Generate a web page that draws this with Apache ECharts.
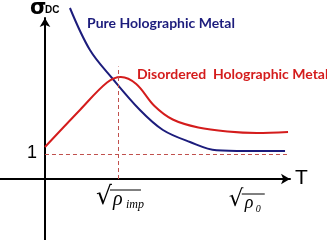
<!DOCTYPE html>
<html><head><meta charset="utf-8">
<script src="https://cdn.jsdelivr.net/npm/echarts@6/dist/echarts.min.js"></script>
<style>html,body{margin:0;padding:0;background:#fff}#c{width:327px;height:240px}</style>
</head><body><div id="c"></div>
<script>
// x in units of sqrt(rho_imp); y in units of sigma_DC (1 = residual level)
const pureX = [0.342, 0.616, 0.918, 1.301, 1.616, 1.986, 2.35, 2.75, 3.288];
const pureY = [6.84, 5.16, 4.04, 2.76, 1.96, 1.48, 1.15, 1.12, 1.12];
const disX = [0, 0.479, 0.85, 1.04, 1.25, 1.5, 1.75, 2.1, 2.5, 2.9, 3.329];
const disY = [1.28, 2.76, 3.86, 4.08, 3.8, 2.92, 2.38, 2.06, 1.9, 1.84, 1.88];
const xTickValues = [1, 2.75];
const xTickSubs = ['imp', '0'];
const yTickValues = [1];
const yTickLabels = ['1'];
const seriesNames = ['Pure Holographic Metal', 'Disordered  Holographic Metal'];
const axisNames = ['T', 'σ', 'DC'];

const BLUE = '#1c1c7c', RED = '#d41c1c', DASH = '#c0504d';
const chart = echarts.init(document.getElementById('c'));
const zip = (a, b) => a.map((v, i) => [v, b[i]]);
chart.setOption({
  animation: false,
  grid: {left: 0, right: 37, top: 18, bottom: 0, containLabel: false},
  xAxis: {type: 'value', min: -0.616, max: 3.356, splitLine: {show: false},
    axisTick: {show: false}, axisLabel: {show: false},
    axisLine: {onZero: true, lineStyle: {color: '#000', width: 2}, symbol: ['none', 'arrow'], symbolSize: [8, 9]}},
  yAxis: {type: 'value', min: -2.44, max: 6.44, splitLine: {show: false},
    axisTick: {show: false}, axisLabel: {show: false},
    axisLine: {onZero: true, lineStyle: {color: '#000', width: 2}, symbol: ['none', 'arrow'], symbolSize: [8, 9]}},
  series: [
    {type: 'line', name: seriesNames[0], data: zip(pureX, pureY), smooth: 0.35, showSymbol: false, clip: false,
      lineStyle: {color: BLUE, width: 2}},
    {type: 'line', name: seriesNames[1], data: zip(disX, disY), smooth: 0.35, showSymbol: false, clip: false,
      lineStyle: {color: RED, width: 2},
      markLine: {silent: true, symbol: 'none', label: {show: false},
        lineStyle: {color: DASH, type: [4, 3], width: 1},
        data: [
          [{coord: [0, yTickValues[0]]}, {coord: [3.33, yTickValues[0]]}],
          [{coord: [xTickValues[0], 0]}, {coord: [xTickValues[0], 4.5]}]
        ]}}
  ]
});

const px = (x, y) => chart.convertToPixel({gridIndex: 0}, [x, y]);
const g = [];
xTickValues.forEach((v, i) => {
  const [ax] = px(v, 0);
  const big = i === 0;
  const top = big ? 189 : 193;
  const rl = big ? ax - 22 : ax - 17;
  g.push({type: 'text', left: rl, top: top - 4, style: {text: '√', font: (big ? 25 : 23) + 'px "DejaVu Serif"', fill: '#000'}});
  const ol = rl + (big ? 14 : 13);
  g.push({type: 'line', shape: {x1: ol, y1: top + 1, x2: ol + (big ? 31 : 23), y2: top + 1}, style: {stroke: '#000', lineWidth: 1}});
  g.push({type: 'text', left: ol + 3, top: top + 1, style: {text: 'ρ', font: 'italic ' + (big ? 20 : 18) + 'px "Liberation Serif"', fill: '#000'}});
  g.push({type: 'text', left: ol + (big ? 16 : 14), top: top + (big ? 10 : 11), style: {text: xTickSubs[i], font: 'italic ' + (big ? 12 : 10) + 'px "Liberation Serif"', fill: '#000'}});
});
yTickValues.forEach((v, i) => {
  const [, py] = px(0, v);
  g.push({type: 'text', left: 27, top: py - 10, style: {text: yTickLabels[i], font: '18px "Liberation Sans"', fill: '#000'}});
});
g.push({type: 'text', left: 295, top: 168, style: {text: axisNames[0], font: '21px "Liberation Sans"', fill: '#000'}});
g.push({type: 'text', left: 30, top: -2, style: {text: axisNames[1], font: 'bold 21px "DejaVu Sans"', fill: '#000'}});
g.push({type: 'text', left: 45, top: 5, style: {text: axisNames[2], font: 'bold 10px "Liberation Sans"', fill: '#000'}});
g.push({type: 'text', left: 87, top: 16, style: {text: seriesNames[0], font: 'bold 14px Lato', fill: BLUE}});
g.push({type: 'text', left: 137, top: 67, style: {text: seriesNames[1], font: 'bold 14px Lato', fill: RED}});
chart.setOption({graphic: g});
</script></body></html>
